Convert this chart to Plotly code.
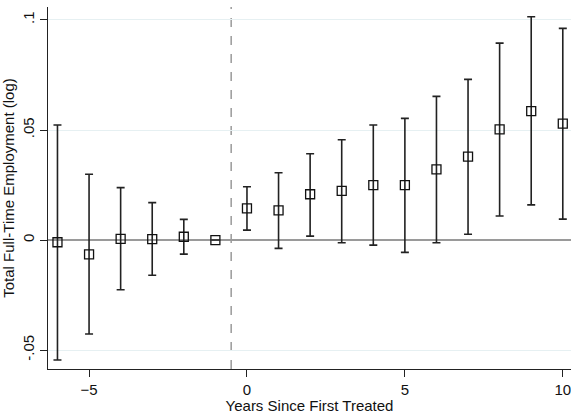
import plotly.graph_objects as go

years = [-6, -5, -4, -3, -2, -1, 0, 1, 2, 3, 4, 5, 6, 7, 8, 9, 10]
coef = [-0.0010, -0.0065, 0.0005, 0.0004, 0.0015, 0.0, 0.0144, 0.0135, 0.0208, 0.0223,
        0.0250, 0.0250, 0.0321, 0.0379, 0.0503, 0.0586, 0.0529]
ci_upper = [0.0523, 0.0299, 0.0238, 0.0170, 0.0094, 0.0, 0.0242, 0.0306, 0.0392, 0.0456,
            0.0523, 0.0553, 0.0653, 0.0730, 0.0895, 0.1015, 0.0962]
ci_lower = [-0.0545, -0.0427, -0.0226, -0.0160, -0.0064, 0.0, 0.0045, -0.0038, 0.0018, -0.0012,
            -0.0023, -0.0056, -0.0012, 0.0026, 0.0109, 0.0160, 0.0095]

y_ticks = [-0.05, 0, 0.05, 0.1]
y_ticklabels = ["-.05", "0", ".05", ".1"]
x_ticks = [-5, 0, 5, 10]
treat_line = -0.5

err_plus = [u - c for u, c in zip(ci_upper, coef)]
err_minus = [c - l for c, l in zip(coef, ci_lower)]

fig = go.Figure()
fig.add_trace(go.Scatter(
    x=years, y=coef, mode="markers",
    marker=dict(symbol="square-open", size=9, color="#111111", line=dict(width=1.3, color="#111111")),
    error_y=dict(type="data", symmetric=False, array=err_plus, arrayminus=err_minus,
                 color="#222222", thickness=1.6, width=4),
    showlegend=False,
))

fig.add_shape(type="line", xref="x", yref="paper", x0=treat_line, x1=treat_line, y0=0, y1=1,
              line=dict(color="#a0a0a0", width=1.6, dash="dash"), layer="below")

font = "Liberation Sans, Arial, Helvetica, sans-serif"
fig.update_layout(
    width=571, height=414,
    margin=dict(l=48, r=0, t=7, b=45),
    paper_bgcolor="white", plot_bgcolor="white",
    font=dict(family=font, size=15, color="#111111"),
    xaxis=dict(
        range=[-6.3, 10.26], tickvals=x_ticks, ticks="outside", ticklen=7, tickwidth=1.2,
        tickcolor="#222222", showline=True, linecolor="#222222", linewidth=1.4,
        showgrid=False, zeroline=False, ticklabeloverflow="allow",
        title=dict(text="Years Since First Treated", standoff=0, font=dict(size=15)),
        tickfont=dict(size=15),
    ),
    yaxis=dict(
        range=[-0.0586, 0.1059], tickvals=y_ticks, ticktext=y_ticklabels, tickangle=-90,
        ticks="outside", ticklen=7, tickwidth=1.2, tickcolor="#222222",
        showline=True, linecolor="#222222", linewidth=1.4,
        showgrid=True, gridcolor="#e6f0f2", gridwidth=1.2,
        zeroline=True, zerolinecolor="#9a9a9a", zerolinewidth=1.6,
        title=dict(text="Total Full-Time Employment (log)", standoff=2, font=dict(size=15)),
        tickfont=dict(size=15),
    ),
)

fig.write_html("out.html")
